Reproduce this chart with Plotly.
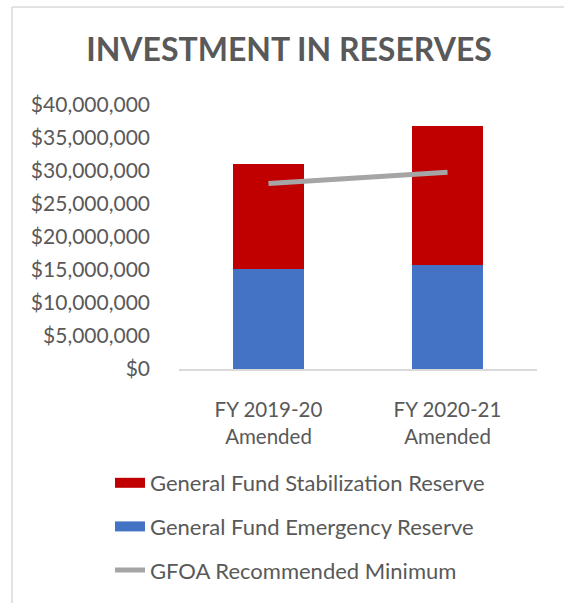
import plotly.graph_objects as go

categories = ["FY 2019-20<br>Amended", "FY 2020-21<br>Amended"]
emergency_reserve = [15150000, 15760000]
stabilization_reserve = [15900000, 21100000]
gfoa_minimum = [28100000, 29800000]
y_ticks = [0, 5000000, 10000000, 15000000, 20000000, 25000000, 30000000, 35000000, 40000000]
y_tick_labels = ["$0", "$5,000,000", "$10,000,000", "$15,000,000", "$20,000,000",
                 "$25,000,000", "$30,000,000", "$35,000,000", "$40,000,000"]

W, H = 564, 603
L, R, T, B = 179, 537, 105, 369
FONT = "Lato, Calibri, sans-serif"
TXT = "#595959"

def px_x(p):
    return (p - L) / (R - L)

def px_y(p):
    return (B - p) / (B - T)

fig = go.Figure()
fig.add_trace(go.Bar(x=categories, y=emergency_reserve, marker=dict(color="#4472C4", line=dict(width=0)),
                     name="General Fund Emergency Reserve", showlegend=False))
fig.add_trace(go.Bar(x=categories, y=stabilization_reserve, marker=dict(color="#C00000", line=dict(width=0)),
                     name="General Fund Stabilization Reserve", showlegend=False))
fig.add_trace(go.Scatter(x=categories, y=gfoa_minimum, mode="lines",
                         line=dict(color="#A5A5A5", width=5), name="GFOA Recommended Minimum",
                         showlegend=False))
# legend entries
fig.add_trace(go.Scatter(x=[None], y=[None], mode="lines", line=dict(color="#C00000", width=13),
                         name="General Fund Stabilization Reserve", legendgroup="a", legendrank=1))
fig.add_trace(go.Scatter(x=[None], y=[None], mode="lines", line=dict(color="#4472C4", width=13),
                         name="General Fund Emergency Reserve", legendgroup="b", legendrank=2))
fig.add_trace(go.Scatter(x=[None], y=[None], mode="lines", line=dict(color="#A5A5A5", width=5),
                         name="GFOA Recommended Minimum", legendgroup="c", legendrank=3))

fig.update_layout(
    width=W, height=H,
    margin=dict(l=L, r=W - R, t=T, b=H - B, pad=0, autoexpand=False),
    paper_bgcolor="white", plot_bgcolor="white",
    barmode="stack", bargap=0.6,
    font=dict(family=FONT, color=TXT, size=20),
    title=dict(text="<b>INVESTMENT IN RESERVES</b>", x=289 / W, xanchor="center",
               y=1 - 50 / H, yanchor="middle", font=dict(size=32, color=TXT, family=FONT)),
    showlegend=True,
    legend=dict(x=px_x(110), y=px_y(462), xanchor="left", yanchor="top", traceorder="grouped",
                tracegroupgap=12, font=dict(size=22, color=TXT, family=FONT), bgcolor="rgba(0,0,0,0)"),
    xaxis=dict(showline=True, linecolor="#D9D9D9", linewidth=1.5, ticks="", showgrid=False,
               ticklabelstandoff=22, tickfont=dict(size=20.5, color=TXT)),
    yaxis=dict(range=[0, 40000000], tickvals=y_ticks, ticktext=y_tick_labels, showgrid=False,
               zeroline=False, showline=False, ticks="", ticklabelstandoff=28, tickfont=dict(size=21, color=TXT)),
)

fig.add_shape(type="line", xref="paper", yref="paper", x0=px_x(12), x1=px_x(564), y0=px_y(7), y1=px_y(7),
              line=dict(color="#D9D9D9", width=1.5))
fig.add_shape(type="line", xref="paper", yref="paper", x0=px_x(12), x1=px_x(12), y0=px_y(7), y1=px_y(603),
              line=dict(color="#D9D9D9", width=1.5))

fig.write_html("out.html", config={"displayModeBar": False},
               post_script="document.body.style.margin='0';document.body.style.overflow='hidden';")
